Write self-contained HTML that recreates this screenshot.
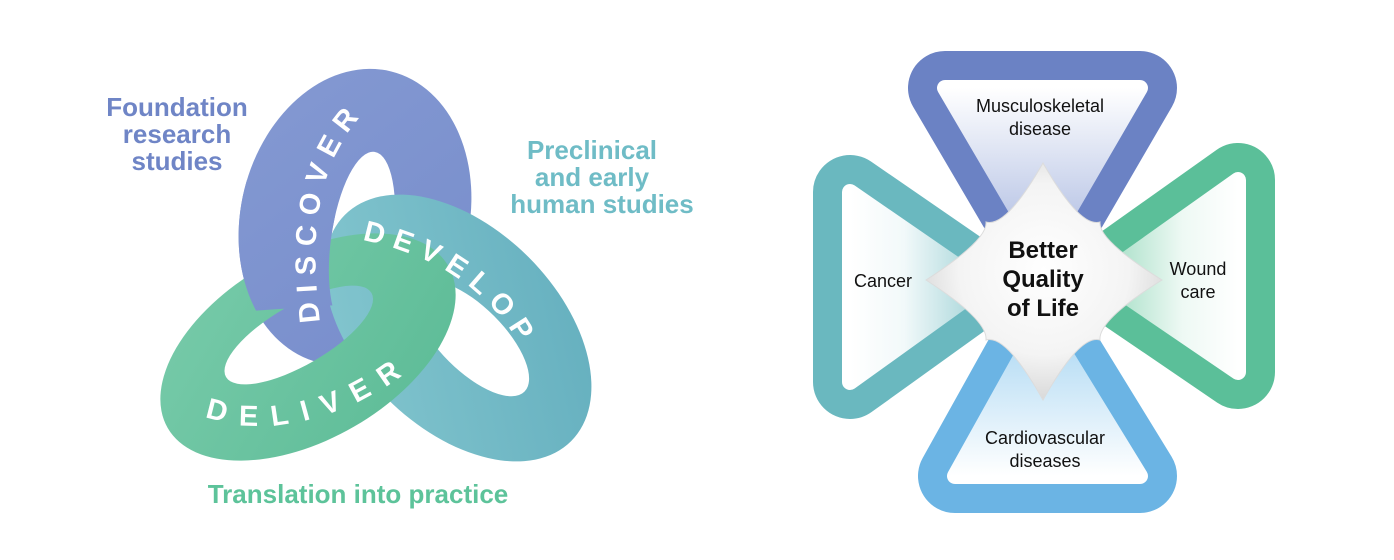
<!DOCTYPE html>
<html><head><meta charset="utf-8"><style>
html,body{margin:0;padding:0;background:#fff;}
svg{display:block;}
text{font-family:"Liberation Sans",sans-serif;}
</style></head><body>
<svg width="1394" height="560" viewBox="0 0 1394 560" xmlns="http://www.w3.org/2000/svg">
<defs>
<linearGradient id="gb" x1="0" y1="0" x2="1" y2="1"><stop offset="0" stop-color="#8ba0d6"/><stop offset="1" stop-color="#6d83c6"/></linearGradient>
<linearGradient id="gt" x1="0" y1="0" x2="1" y2="1"><stop offset="0" stop-color="#86c8d0"/><stop offset="1" stop-color="#62adbd"/></linearGradient>
<linearGradient id="gg" x1="0" y1="0" x2="1" y2="1"><stop offset="0" stop-color="#78cbaa"/><stop offset="1" stop-color="#5cbb96"/></linearGradient>
<linearGradient id="it" x1="0" y1="0" x2="0" y2="1"><stop offset="0" stop-color="#fff"/><stop offset="1" stop-color="#a9b8e0"/></linearGradient>
<linearGradient id="il" x1="0" y1="0" x2="1" y2="0"><stop offset="0" stop-color="#fff"/><stop offset="0.4" stop-color="#f2f9fa"/><stop offset="1" stop-color="#9fd2d6"/></linearGradient>
<linearGradient id="ir" x1="1" y1="0" x2="0" y2="0"><stop offset="0" stop-color="#fff"/><stop offset="0.4" stop-color="#eef9f4"/><stop offset="1" stop-color="#9cdbc0"/></linearGradient>
<linearGradient id="ib" x1="0" y1="1" x2="0" y2="0"><stop offset="0" stop-color="#fff"/><stop offset="1" stop-color="#a6d5f2"/></linearGradient>
<radialGradient id="dm" cx="0.5" cy="0.45" r="0.6"><stop offset="0" stop-color="#ffffff"/><stop offset="0.6" stop-color="#f4f4f4"/><stop offset="1" stop-color="#d2d2d2"/></radialGradient>
<clipPath id="tl"><polygon points="150,180 334,180 338,305 150,318"/></clipPath>
<mask id="mb" maskUnits="userSpaceOnUse" x="0" y="0" width="700" height="560">
<ellipse cx="355" cy="217" rx="114" ry="150" transform="rotate(14 355 217)" fill="#fff"/>
<ellipse cx="362" cy="241" rx="31" ry="90" transform="rotate(8 362 241)" fill="#000"/>
</mask>
<path id="pDis" d="M 320 322 C 310 240, 312 160, 376 100"/>
<path id="pDev" d="M 362 240 C 440 256, 498 294, 532 368"/>
<path id="pDel" d="M 205 416 C 270 442, 362 416, 434 350"/>
<rect id="blueRing" x="0" y="0" width="700" height="560" fill="url(#gb)" mask="url(#mb)"/>
</defs>

<!-- rings -->
<use href="#blueRing"/>
<path fill-rule="evenodd" fill="url(#gt)" transform="rotate(-45 458 328)" d="M 358 328 A 100 160 0 1 0 558 328 A 100 160 0 1 0 358 328 Z M 428 345 A 32 75 0 1 0 492 345 A 32 75 0 1 0 428 345 Z"/>
<path fill-rule="evenodd" fill="url(#gg)" transform="rotate(-30 308 347)" d="M 146 347 A 162 92 0 1 0 470 347 A 162 92 0 1 0 146 347 Z M 222 332 A 84 30 0 1 0 390 332 A 84 30 0 1 0 222 332 Z"/>
<use href="#blueRing" clip-path="url(#tl)"/>

<g fill="#fff" font-weight="bold" font-size="29">
<text letter-spacing="9"><textPath href="#pDis">DISCOVER</textPath></text>
<text letter-spacing="9"><textPath href="#pDev">DEVELOP</textPath></text>
<text letter-spacing="14"><textPath href="#pDel">DELIVER</textPath></text>
</g>

<g font-weight="bold" font-size="26" text-anchor="middle">
<text fill="#6f85c6" x="177" y="116">Foundation</text>
<text fill="#6f85c6" x="177" y="143">research</text>
<text fill="#6f85c6" x="177" y="170">studies</text>
<text fill="#6fbcc6" x="592" y="159">Preclinical</text>
<text fill="#6fbcc6" x="592" y="186">and early</text>
<text fill="#6fbcc6" x="602" y="213">human studies</text>
<text fill="#5dc39a" x="358" y="503">Translation into practice</text>
</g>

<!-- petals outer -->
<g stroke-linejoin="round" stroke-width="74">
<polygon points="945,88 1140,88 1043,255" fill="#6b82c4" stroke="#6b82c4"/>
<polygon points="850,192 850,382 985,285" fill="#6ab8bf" stroke="#6ab8bf"/>
<polygon points="1238,180 1238,372 1100,278" fill="#5bbf99" stroke="#5bbf99"/>
<polygon points="955,476 1140,476 1043,318" fill="#6bb4e4" stroke="#6bb4e4"/>
</g>
<g stroke-linejoin="round" stroke-width="16">
<polygon points="945,88 1140,88 1043,255" fill="url(#it)" stroke="url(#it)"/>
<polygon points="850,192 850,382 985,285" fill="url(#il)" stroke="url(#il)"/>
<polygon points="1238,180 1238,372 1100,278" fill="url(#ir)" stroke="url(#ir)"/>
<polygon points="955,476 1140,476 1043,318" fill="url(#ib)" stroke="url(#ib)"/>
</g>
<!-- diamond -->
<path d="M1043 163 Q1080 228 1100 222 Q1098 240 1162 280 Q1098 320 1100 340 Q1080 334 1043 400 Q1006 334 986 340 Q988 320 926 280 Q988 240 986 222 Q1006 228 1043 163 Z" fill="url(#dm)" stroke="#dcdcdc" stroke-width="1"/>

<g font-size="18" fill="#111" text-anchor="middle">
<text x="1040" y="112">Musculoskeletal</text>
<text x="1040" y="135">disease</text>
<text x="883" y="287">Cancer</text>
<text x="1198" y="275">Wound</text>
<text x="1198" y="298">care</text>
<text x="1045" y="444">Cardiovascular</text>
<text x="1045" y="467">diseases</text>
</g>
<g font-size="24" font-weight="bold" fill="#111" text-anchor="middle">
<text x="1043" y="258">Better</text>
<text x="1043" y="287">Quality</text>
<text x="1043" y="316">of Life</text>
</g>
</svg>
</body></html>
